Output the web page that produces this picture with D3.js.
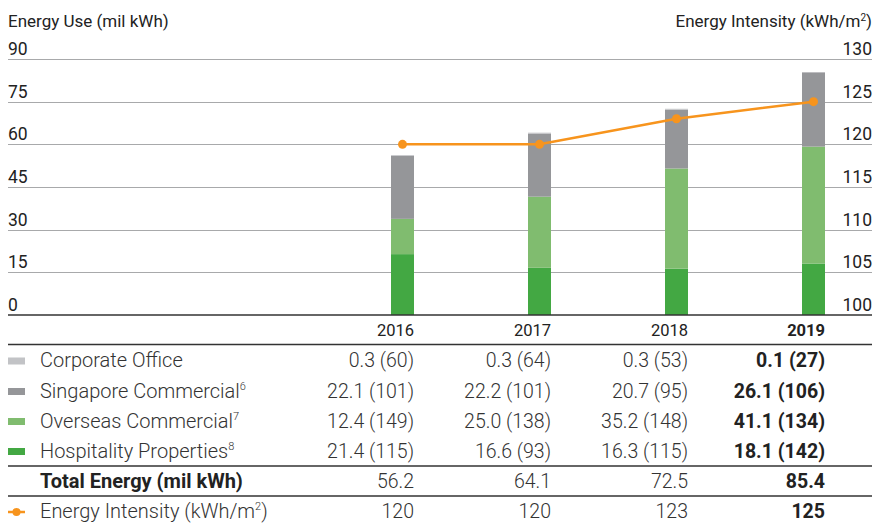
<!DOCTYPE html>
<html>
<head>
<meta charset="utf-8">
<script src="https://cdn.jsdelivr.net/npm/d3@7"></script>
<style>
  body { margin: 0; background: #fff; }
  svg { display: block; font-family: Roboto, "Open Sans", sans-serif; }
</style>
</head>
<body>
<svg width="874" height="525"></svg>
<script>
// Data
var years = ["2016", "2017", "2018", "2019"];
var hospitality = [21.4, 16.6, 16.3, 18.1];
var overseas = [12.4, 25.0, 35.2, 41.1];
var singapore = [22.1, 22.2, 20.7, 26.1];
var corporate = [0.3, 0.3, 0.3, 0.1];
var hospitalityInt = [115, 93, 115, 142];
var overseasInt = [149, 138, 148, 134];
var singaporeInt = [101, 101, 95, 106];
var corporateInt = [60, 64, 53, 27];
var totals = [56.2, 64.1, 72.5, 85.4];
var intensity = [120, 120, 123, 125];
var leftTicks = [0, 15, 30, 45, 60, 75, 90];
var rightTicks = [100, 105, 110, 115, 120, 125, 130];

var svg = d3.select("svg"),
    left = 8, right = 872;

var colors = {
    hospitality: "#43a843",
    overseas: "#80bc6f",
    singapore: "#959699",
    corporate: "#c2c3c6",
    line: "#f7941d"
};

var labelSize = 20, valueSize = 19.5;

// scales
var y = d3.scaleLinear().domain([0, 90]).range([315, 59]);
var y2 = d3.scaleLinear().domain([100, 130]).range([315, 59]);
var x = d3.scalePoint().domain(years).range([402.5, 813.5]);
var barW = 23;

// axis titles
svg.append("text").attr("x", left).attr("y", 27)
    .attr("font-size", 17).attr("fill", "#222").text("Energy Use (mil kWh)");
var rt = svg.append("text").attr("x", right).attr("y", 27).attr("text-anchor", "end")
    .attr("font-size", 17).attr("fill", "#222");
rt.append("tspan").text("Energy Intensity (kWh/m");
rt.append("tspan").attr("font-size", 10).attr("dy", -6).text("2");
rt.append("tspan").attr("dy", 6).text(")");

// gridlines + tick labels
var grid = svg.append("g");
grid.selectAll("line").data(leftTicks.filter(function (d) { return d > 0; }))
    .enter().append("line")
    .attr("x1", left).attr("x2", right)
    .attr("y1", function (d) { return Math.round(y(d)) + 0.5; })
    .attr("y2", function (d) { return Math.round(y(d)) + 0.5; })
    .attr("stroke", "#a8a9ab").attr("stroke-width", 1);

svg.append("g").selectAll("text").data(leftTicks).enter().append("text")
    .attr("x", left).attr("y", function (d) { return y(d) - 4; })
    .attr("font-size", 17.5).attr("fill", "#222")
    .text(function (d) { return d; });

svg.append("g").selectAll("text").data(rightTicks).enter().append("text")
    .attr("x", right).attr("y", function (d) { return y2(d) - 4; })
    .attr("text-anchor", "end")
    .attr("font-size", 17.5).attr("fill", "#222")
    .text(function (d) { return d; });

// stacked bars
var rows = years.map(function (yr, i) {
    return { year: yr, hospitality: hospitality[i], overseas: overseas[i], singapore: singapore[i], corporate: corporate[i] };
});
var keys = ["hospitality", "overseas", "singapore", "corporate"];
var stack = d3.stack().keys(keys)(rows);

svg.append("g").selectAll("g").data(stack).enter().append("g")
    .attr("fill", function (d) { return colors[d.key]; })
    .selectAll("rect").data(function (d) { return d; }).enter().append("rect")
    .attr("x", function (d) { return x(d.data.year) - barW / 2; })
    .attr("y", function (d) { return y(d[1]); })
    .attr("width", barW)
    .attr("height", function (d) { return y(d[0]) - y(d[1]); });

// baseline
svg.append("line").attr("x1", left).attr("x2", right).attr("y1", 315).attr("y2", 315)
    .attr("stroke", "#333").attr("stroke-width", 1.5);

// intensity line
var line = d3.line()
    .x(function (d, i) { return x(years[i]); })
    .y(function (d) { return y2(d); });
svg.append("path").datum(intensity).attr("d", line)
    .attr("fill", "none").attr("stroke", colors.line).attr("stroke-width", 2.5);
svg.append("g").selectAll("circle").data(intensity).enter().append("circle")
    .attr("cx", function (d, i) { return x(years[i]); })
    .attr("cy", function (d) { return y2(d); })
    .attr("r", 4.5).attr("fill", colors.line);

// table
var colRight = function (yr) { return x(yr) + barW / 2; };

svg.append("g").selectAll("text").data(years).enter().append("text")
    .attr("x", colRight).attr("y", 336).attr("text-anchor", "end")
    .attr("font-size", 16.5)
    .attr("font-weight", function (d, i) { return i === 3 ? 700 : 400; })
    .attr("fill", "#222").text(function (d) { return d; });

[344.5, 466, 496].forEach(function (ly) {
    svg.append("line").attr("x1", left).attr("x2", right).attr("y1", ly).attr("y2", ly)
        .attr("stroke", "#333").attr("stroke-width", 1.5);
});

var tableRows = [
    { label: "Corporate Office", sup: "", color: colors.corporate, vals: corporate, ints: corporateInt, y: 367 },
    { label: "Singapore Commercial", sup: "6", color: colors.singapore, vals: singapore, ints: singaporeInt, y: 397.5 },
    { label: "Overseas Commercial", sup: "7", color: colors.overseas, vals: overseas, ints: overseasInt, y: 427.5 },
    { label: "Hospitality Properties", sup: "8", color: colors.hospitality, vals: hospitality, ints: hospitalityInt, y: 457.5 }
];

tableRows.forEach(function (r) {
    svg.append("rect").attr("x", left).attr("y", r.y - 9.5).attr("width", 17).attr("height", 7)
        .attr("fill", r.color);
    var t = svg.append("text").attr("x", 40).attr("y", r.y)
        .attr("font-size", labelSize).attr("font-weight", 300).attr("fill", "#333");
    t.append("tspan").text(r.label);
    if (r.sup) t.append("tspan").attr("font-size", 11).attr("dy", -8).text(r.sup);
    years.forEach(function (yr, i) {
        svg.append("text").attr("x", colRight(yr)).attr("y", r.y)
            .attr("text-anchor", "end").attr("font-size", valueSize)
            .attr("font-weight", i === 3 ? 700 : 300)
            .attr("fill", i === 3 ? "#222" : "#333")
            .text(r.vals[i].toFixed(1) + " (" + r.ints[i] + ")");
    });
});

// total row
svg.append("text").attr("x", 40).attr("y", 488).attr("font-size", labelSize)
    .attr("font-weight", 700).attr("fill", "#222").text("Total Energy (mil kWh)");
years.forEach(function (yr, i) {
    svg.append("text").attr("x", colRight(yr)).attr("y", 488)
        .attr("text-anchor", "end").attr("font-size", valueSize)
        .attr("font-weight", i === 3 ? 700 : 300)
        .attr("fill", i === 3 ? "#222" : "#333")
        .text(totals[i].toFixed(1));
});

// intensity row
svg.append("line").attr("x1", left).attr("x2", left + 17).attr("y1", 512).attr("y2", 512)
    .attr("stroke", colors.line).attr("stroke-width", 2.5);
svg.append("circle").attr("cx", left + 8.5).attr("cy", 512).attr("r", 4).attr("fill", colors.line);
var it = svg.append("text").attr("x", 40).attr("y", 518)
    .attr("font-size", labelSize).attr("font-weight", 300).attr("fill", "#333");
it.append("tspan").text("Energy Intensity (kWh/m");
it.append("tspan").attr("font-size", 11).attr("dy", -8).text("2");
it.append("tspan").attr("dy", 8).text(")");
years.forEach(function (yr, i) {
    svg.append("text").attr("x", colRight(yr)).attr("y", 518)
        .attr("text-anchor", "end").attr("font-size", valueSize)
        .attr("font-weight", i === 3 ? 700 : 300)
        .attr("fill", i === 3 ? "#222" : "#333")
        .text(intensity[i]);
});
</script>
</body>
</html>
